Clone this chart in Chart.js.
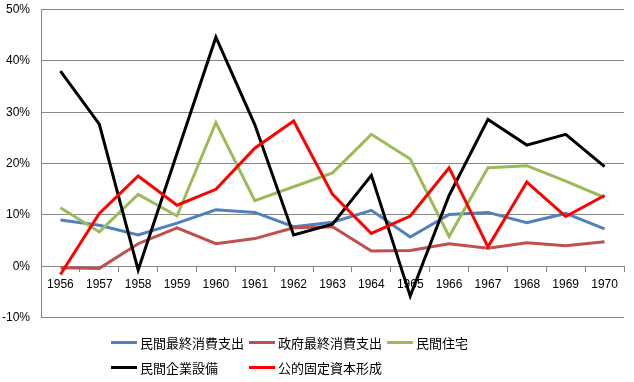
<!DOCTYPE html>
<html>
<head>
<meta charset="utf-8">
<script src="https://cdn.jsdelivr.net/npm/chart.js@4/dist/chart.umd.min.js"></script>
<style>
  html, body { margin: 0; padding: 0; background: #fff; }
  #wrap { position: relative; width: 634px; height: 382px; }
  canvas { position: absolute; left: 0; top: 0; }
  .lg { position: absolute; height: 16px; display: flex; align-items: center;
        font-family: "Noto Sans CJK JP", sans-serif; font-size: 13px; color: #000; white-space: nowrap; }
  .lg span.ln { display: inline-block; width: 26px; height: 3px; margin-right: 3px; }
</style>
</head>
<body>
<div id="wrap">
  <canvas id="c" width="634" height="382"></canvas>
  <div id="legend"></div>
</div>
<script>
const years = ["1956","1957","1958","1959","1960","1961","1962","1963","1964","1965","1966","1967","1968","1969","1970"];
const seriesNames = ["民間最終消費支出","政府最終消費支出","民間住宅","民間企業設備","公的固定資本形成"];
const privateConsumption = [9.0, 8.0, 6.1, 8.4, 11.0, 10.5, 7.7, 8.6, 10.9, 5.7, 10.1, 10.5, 8.5, 10.3, 7.3];
const governmentConsumption = [-0.3, -0.4, 4.4, 7.5, 4.4, 5.4, 7.5, 7.7, 3.0, 3.1, 4.4, 3.5, 4.6, 4.0, 4.8];
const privateHousing = [11.4, 6.7, 14.0, 9.8, 28.0, 12.8, 15.5, 18.2, 25.7, 20.9, 5.8, 19.2, 19.6, 16.6, 13.4];
const privateInvestment = [38.0, 27.7, -0.7, 22.0, 44.6, 27.6, 6.1, 8.2, 17.7, -5.8, 13.8, 28.6, 23.6, 25.7, 19.4];
const publicInvestment = [-1.6, 10.3, 17.6, 11.9, 15.0, 23.0, 28.3, 14.0, 6.4, 9.8, 19.2, 3.8, 16.4, 9.7, 13.8];
const yTicks = [-10, 0, 10, 20, 30, 40, 50];

const colors = ["#4F81BD", "#C0504D", "#9BBB59", "#000000", "#FF0000"];
const allSeries = [privateConsumption, governmentConsumption, privateHousing, privateInvestment, publicInvestment];

const datasets = allSeries.map((d, i) => ({
  label: seriesNames[i],
  data: d,
  borderColor: colors[i],
  backgroundColor: colors[i],
  borderWidth: 3,
  pointRadius: 0,
  tension: 0,
  fill: false,
  order: allSeries.length - 1 - i
}));

const gridColor = "#878787";
const tickFont = { family: "Liberation Sans", size: 12 };

new Chart(document.getElementById("c"), {
  type: "line",
  data: { labels: years, datasets },
  options: {
    responsive: false,
    animation: false,
    layout: { padding: { top: 9.5, right: 10, bottom: 64.3, left: 0 } },
    plugins: { legend: { display: false }, tooltip: { enabled: false } },
    scales: {
      x: {
        position: { y: 0 },
        offset: true,
        grid: { offset: true, drawOnChartArea: false, drawTicks: true, tickLength: 5, color: gridColor },
        border: { color: gridColor, width: 1 },
        ticks: { color: "#000", font: tickFont, padding: 6, maxRotation: 0, autoSkip: false }
      },
      y: {
        min: -10, max: 50,
        afterBuildTicks: (s) => { s.ticks = yTicks.map(v => ({ value: v })); },
        afterFit: (s) => { s.width = 41; },
        grid: { color: gridColor, drawTicks: true, tickLength: 11, tickColor: "rgba(0,0,0,0)" },
        border: { color: gridColor, width: 1 },
        ticks: { color: "#000", font: tickFont, padding: 0, callback: v => v + "%" }
      }
    }
  }
});

const legendPos = [
  { x: 111, y: 334 }, { x: 249, y: 334 }, { x: 387, y: 334 },
  { x: 111, y: 359 }, { x: 249, y: 359 }
];
const lg = document.getElementById("legend");
seriesNames.forEach((n, i) => {
  const d = document.createElement("div");
  d.className = "lg";
  d.style.left = legendPos[i].x + "px";
  d.style.top = legendPos[i].y + "px";
  const ln = document.createElement("span");
  ln.className = "ln";
  ln.style.background = colors[i];
  d.appendChild(ln);
  d.appendChild(document.createTextNode(n));
  lg.appendChild(d);
});
</script>
</body>
</html>
